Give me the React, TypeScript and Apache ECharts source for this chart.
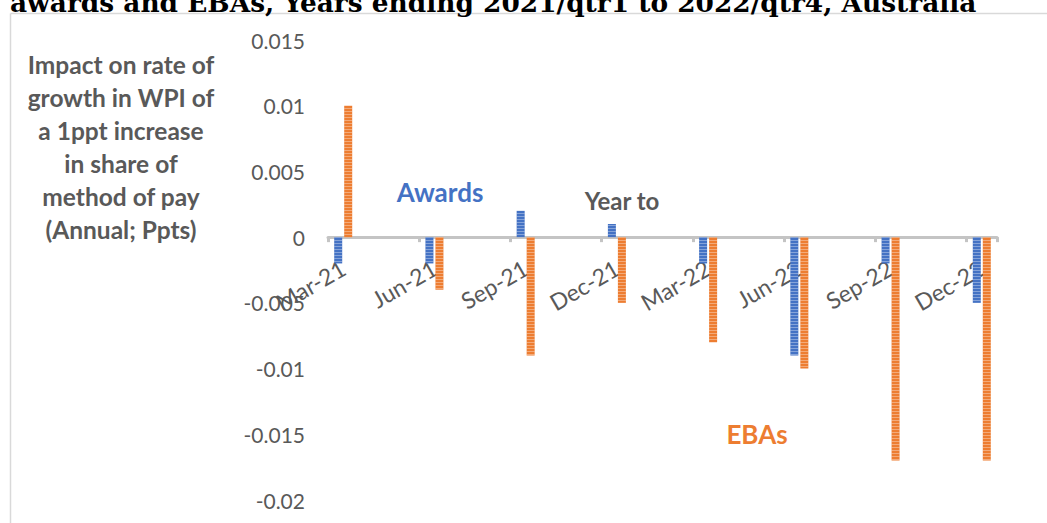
import React, { useEffect, useRef } from "react";
import * as echarts from "echarts";

// Quarter-end categories and the estimated effect for each method of pay
const quarters = ["Mar-21", "Jun-21", "Sep-21", "Dec-21", "Mar-22", "Jun-22", "Sep-22", "Dec-22"];
const awards = [-0.002, -0.002, 0.002, 0.001, -0.002, -0.009, -0.002, -0.005];
const ebas = [0.01, -0.004, -0.009, -0.005, -0.008, -0.01, -0.017, -0.017];
const yTicks = [-0.02, -0.015, -0.01, -0.005, 0, 0.005, 0.01, 0.015];

const titleText = "awards and EBAs, Years ending 2021/qtr1 to 2022/qtr4, Australia";
const yTitleLines = [
  "Impact on rate of",
  "growth in WPI of",
  "a 1ppt increase",
  "in share of",
  "method of pay",
  "(Annual; Ppts)",
];

const BLUE = "#4472c4";
const ORANGE = "#ed7d31";
const GREY_TEXT = "#595959";
const AXIS_GREY = "#c4c4c4";
const FONT = "Lato, 'Noto Sans', sans-serif";

// The axis runs month by month (a date axis); the bars sit on each quarter's month.
const MONTHS = ["Jan", "Feb", "Mar", "Apr", "May", "Jun", "Jul", "Aug", "Sep", "Oct", "Nov", "Dec"];
const monthSlots: string[] = [];
for (let m = 2; m < 2 + 22; m++) {
  const yr = 21 + Math.floor(m / 12);
  monthSlots.push(`${MONTHS[m % 12]}-${yr}`);
}
const onQuarters = (vals: number[]) =>
  monthSlots.map((label) => {
    const qi = quarters.indexOf(label);
    return qi >= 0 ? vals[qi] : "-";
  });

const stripes = {
  symbol: "rect",
  symbolSize: 1,
  dashArrayX: [1, 0],
  dashArrayY: [1, 2],
  rotation: 0,
  color: "rgba(255,255,255,0.35)",
};

// plot box
const PLOT_LEFT = 328;
const PLOT_TOP = 40;
const PLOT_W = 669;
const PLOT_H = 460;
const ZERO_Y = PLOT_TOP + (yTicks[yTicks.length - 1] / (yTicks[yTicks.length - 1] - yTicks[0])) * PLOT_H;

export default function App() {
  const ref = useRef<HTMLDivElement>(null);

  useEffect(() => {
    if (!ref.current) return;
    const chart = echarts.init(ref.current, undefined, { renderer: "svg" });
    const isQuarter = (i: number) => i % 3 === 0;

    chart.setOption({
      animation: false,
      backgroundColor: "#ffffff",
      grid: [
        { left: PLOT_LEFT, top: PLOT_TOP, width: PLOT_W, height: PLOT_H, containLabel: false, outerBoundsMode: "none" },
        // thin band along the zero line that carries the category axis
        { left: PLOT_LEFT, top: ZERO_Y - 1, width: PLOT_W, height: 1, containLabel: false, outerBoundsMode: "none" },
      ],
      xAxis: [
        {
          type: "category",
          gridIndex: 0,
          data: monthSlots,
          boundaryGap: true,
          axisLine: { show: false },
          axisTick: { show: false },
          axisLabel: { show: false },
          splitLine: { show: false },
        },
        {
          type: "category",
          gridIndex: 1,
          data: monthSlots,
          boundaryGap: true,
          position: "bottom",
          axisLine: { show: true, onZero: false, lineStyle: { color: AXIS_GREY, width: 3 } },
          axisTick: {
            show: true,
            interval: (i: number) => isQuarter(i),
            length: 5,
            lineStyle: { color: AXIS_GREY, width: 3 },
          },
          axisLabel: {
            interval: (i: number) => isQuarter(i),
            rotate: 30,
            margin: 29,
            color: GREY_TEXT,
            fontSize: 23,
            fontFamily: FONT,
          },
          splitLine: { show: false },
        },
      ],
      yAxis: [
        {
          type: "value",
          gridIndex: 0,
          min: yTicks[0],
          max: yTicks[yTicks.length - 1],
          interval: 0.005,
          axisLine: { show: false },
          axisTick: { show: false },
          splitLine: { show: false },
          axisLabel: {
            margin: 23,
            color: GREY_TEXT,
            fontSize: 21,
            fontFamily: FONT,
            formatter: (v: number) => String(parseFloat(v.toFixed(3))),
          },
        },
        {
          type: "value",
          gridIndex: 1,
          min: 0,
          max: 1,
          show: false,
        },
      ],
      series: [
        {
          name: "Awards",
          type: "bar",
          xAxisIndex: 0,
          yAxisIndex: 0,
          data: onQuarters(awards),
          barWidth: 8,
          barGap: "25%",
          itemStyle: { color: BLUE, decal: stripes },
        },
        {
          name: "EBAs",
          type: "bar",
          xAxisIndex: 0,
          yAxisIndex: 0,
          data: onQuarters(ebas),
          barWidth: 8,
          itemStyle: { color: ORANGE, decal: stripes },
        },
      ],
      graphic: [
        {
          type: "line",
          shape: { x1: 10.5, y1: 13.5, x2: 1047, y2: 13.5 },
          style: { stroke: "#d9d9d9", lineWidth: 1.5 },
        },
        {
          type: "line",
          shape: { x1: 10.5, y1: 13.5, x2: 10.5, y2: 523 },
          style: { stroke: "#d9d9d9", lineWidth: 1.5 },
        },
        {
          type: "text",
          x: 10,
          y: 15,
          style: {
            text: titleText,
            fill: "#000000",
            font: "bold 26.4px 'DejaVu Serif', serif",
            align: "left",
            verticalAlign: "bottom",
          },
        },
        {
          type: "text",
          x: 121,
          y: 147,
          style: {
            text: yTitleLines.join("\n"),
            fill: GREY_TEXT,
            font: `bold 24.5px ${FONT}`,
            lineHeight: 33,
            align: "center",
            verticalAlign: "middle",
          },
        },
        {
          type: "text",
          x: 440,
          y: 192,
          style: {
            text: "Awards",
            fill: BLUE,
            font: `bold 26px ${FONT}`,
            align: "center",
            verticalAlign: "middle",
          },
        },
        {
          type: "text",
          x: 622,
          y: 200,
          style: {
            text: "Year to",
            fill: GREY_TEXT,
            font: `bold 24px ${FONT}`,
            align: "center",
            verticalAlign: "middle",
          },
        },
        {
          type: "text",
          x: 757,
          y: 434,
          style: {
            text: "EBAs",
            fill: ORANGE,
            font: `bold 26px ${FONT}`,
            align: "center",
            verticalAlign: "middle",
          },
        },
      ],
    });

    return () => chart.dispose();
  }, []);

  return (
    <div
      ref={ref}
      style={{ position: "absolute", left: 0, top: 0, width: 1047, height: 523, background: "#fff" }}
    />
  );
}
